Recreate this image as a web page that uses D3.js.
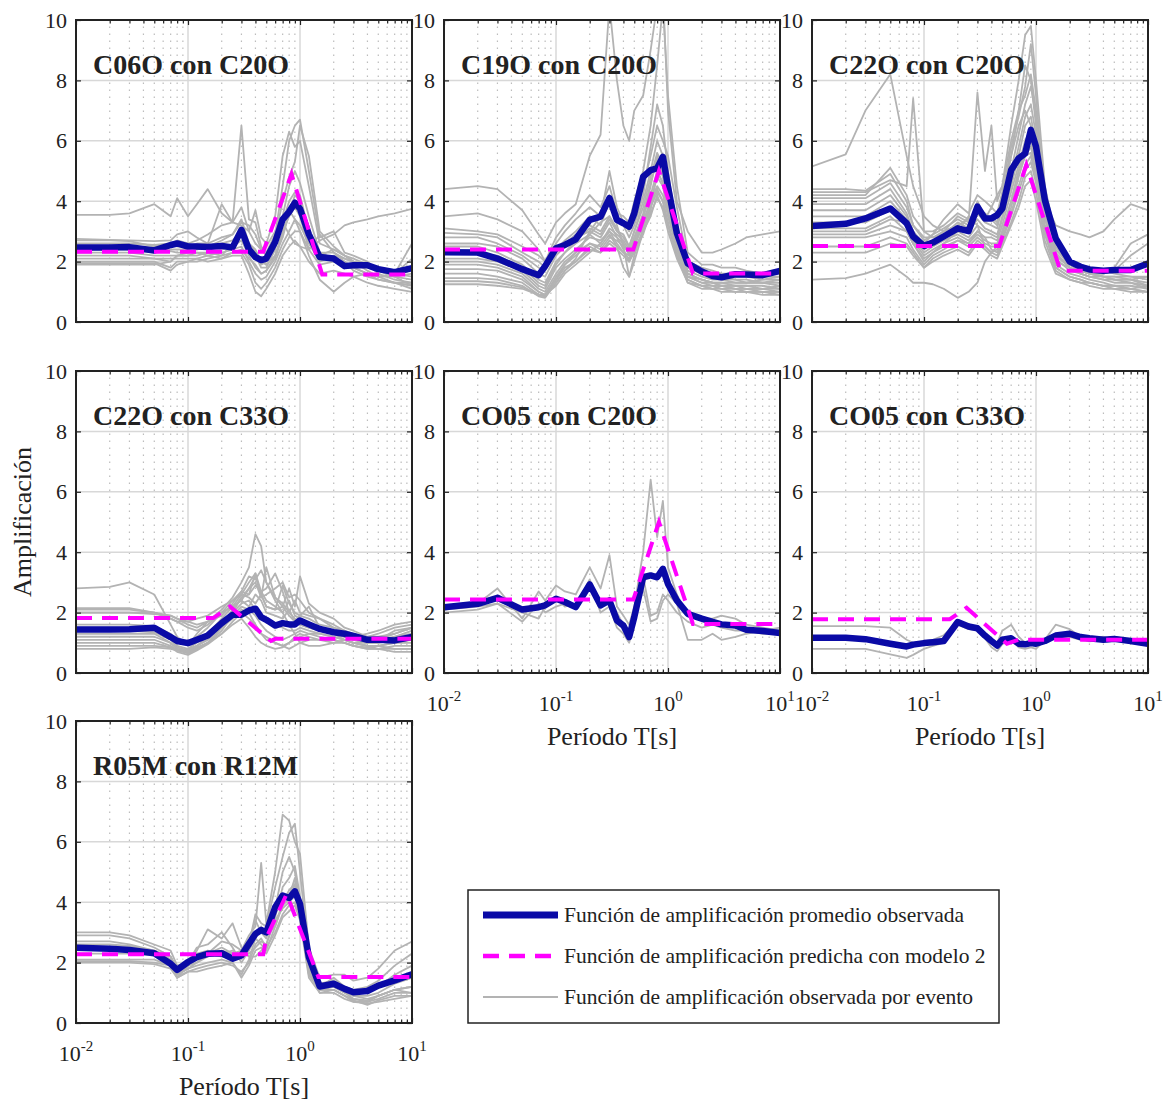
<!DOCTYPE html>
<html>
<head>
<meta charset="utf-8">
<script src="https://cdn.jsdelivr.net/npm/d3@7"></script>
<style>
  body { margin: 0; background: #fff; }
  svg text { font-family: "Liberation Serif", "Times New Roman", serif; fill: #222; }
</style>
</head>
<body>
<svg id="fig" width="1169" height="1102"></svg>
<script>
// Spectral periods (s) at which every curve is sampled
const periods = [0.01,0.02,0.03,0.05,0.07,0.08,0.1,0.12,0.15,0.2,0.25,0.3,0.35,0.4,0.45,0.5,0.6,0.7,0.8,0.9,1.0,1.2,1.5,2,2.5,3,4,5,7,10];

// Axis ticks
const decadeTicks = [0.01, 0.1, 1, 10];
const decadeExponents = ["-2", "-1", "0", "1"];
const ampTicks = [0, 2, 4, 6, 8, 10];

// Station pairs
const pairTitles = ["C06O con C20O", "C19O con C20O", "C22O con C20O", "C22O con C33O", "CO05 con C20O", "CO05 con C33O", "R05M con R12M"];

// ---- C06O con C20O ----
const meanC06O = [2.47,2.47,2.48,2.37,2.55,2.6,2.5,2.5,2.48,2.52,2.47,3.05,2.4,2.15,2.05,2.1,2.65,3.4,3.65,3.95,3.75,2.9,2.15,2.1,1.85,1.88,1.88,1.75,1.65,1.78];
const predC06O = [[0.01,2.33],[0.47,2.33],[0.84,4.9],[1.58,1.57],[10,1.57]];
const eventsC06O = [
  [3.55,3.55,3.6,3.9,3.5,4.1,3.5,3.9,4.4,3.6,3.3,3.2,3.0,2.6,2.4,2.5,3.0,3.3,2.9,2.6,2.5,2.4,2.7,2.9,3.2,3.3,3.4,3.5,3.6,3.75],
  [2.75,2.72,2.7,2.68,2.7,2.9,3.0,2.8,2.6,3.9,3.3,6.5,3.4,3.3,2.5,2.3,2.9,4.5,6.0,6.5,6.7,5.0,2.8,3.0,2.3,2.2,2.0,1.7,1.5,1.4],
  [2.7,2.7,2.68,2.5,2.6,2.7,2.6,2.7,2.9,3.2,3.3,3.8,3.0,3.7,2.8,2.6,3.5,5.5,6.3,5.8,6.0,4.5,2.6,2.4,2.2,2.0,1.8,1.7,1.5,1.2],
  [2.6,2.6,2.6,2.55,2.6,2.5,2.5,2.6,2.6,2.8,2.9,3.3,3.2,2.9,2.4,2.2,2.8,4.0,4.8,5.3,6.5,5.5,3.0,2.5,2.2,2.0,1.9,1.8,1.6,1.5],
  [2.5,2.5,2.5,2.45,2.4,2.4,2.4,2.5,2.5,2.6,2.7,3.0,2.6,2.2,1.8,1.8,2.4,3.5,4.5,5.0,4.6,3.5,2.3,2.3,2.1,2.0,1.9,1.7,1.6,2.6],
  [2.4,2.4,2.4,2.3,2.35,2.3,2.3,2.3,2.3,2.4,2.5,2.7,2.2,1.8,1.6,1.7,2.2,2.8,3.6,4.2,4.0,3.0,2.2,2.4,2.2,2.1,1.9,1.6,1.4,1.3],
  [2.3,2.3,2.3,2.2,2.2,2.2,2.2,2.3,2.2,2.3,2.4,2.5,2.0,1.6,1.4,1.5,2.0,2.6,3.0,3.4,3.2,2.6,2.0,2.2,2.1,2.0,1.7,1.5,1.3,1.2],
  [2.2,2.2,2.2,2.1,2.0,2.2,2.2,2.2,2.3,2.2,2.3,2.3,1.9,1.3,1.1,1.3,1.8,2.4,2.8,3.0,3.0,2.4,1.9,2.0,1.9,1.8,1.6,1.4,1.3,1.1],
  [2.1,2.1,2.1,2.1,2.1,2.1,2.1,2.1,2.2,2.1,2.2,2.2,1.6,1.0,0.85,1.1,1.6,2.2,2.5,2.7,2.5,2.0,1.6,1.7,1.6,1.5,1.3,1.2,1.1,1.0],
  [2.0,2.0,2.0,2.0,1.8,2.0,2.0,2.1,2.0,2.1,2.3,2.4,2.1,1.9,1.6,1.7,2.1,2.9,3.7,3.4,3.0,2.2,1.4,1.0,1.3,1.5,1.6,1.5,1.6,2.1],
  [1.95,1.95,1.95,1.95,1.7,1.9,2.0,2.0,2.1,2.2,2.6,3.0,2.6,2.4,2.0,1.9,2.2,3.0,3.5,3.8,3.5,2.4,2.9,2.3,2.0,1.7,1.5,1.4,1.3,1.3],
  [1.9,1.9,1.9,1.9,2.0,2.2,2.3,2.4,2.5,2.7,2.9,3.4,2.6,2.3,1.9,2.0,2.6,3.3,4.0,4.3,4.2,3.0,2.3,2.1,2.0,1.8,1.6,1.5,1.5,1.6]
];

// ---- C19O con C20O ----
const meanC19O = [2.31,2.3,2.1,1.75,1.55,1.85,2.44,2.55,2.74,3.38,3.49,4.1,3.38,3.27,3.16,3.6,4.81,5.03,5.09,5.47,4.48,2.94,1.94,1.67,1.52,1.48,1.58,1.57,1.55,1.69];
const predC19O = [[0.01,2.4],[0.49,2.4],[0.83,5.0],[1.67,1.61],[10,1.61]];
const eventsC19O = [
  [4.4,4.5,4.4,3.7,2.9,2.6,3.3,3.6,3.9,5.5,6.2,10.5,8.0,6.5,6.0,7.0,7.5,9.0,10.5,11,7.0,4.0,3.0,2.3,2.3,2.4,2.6,2.8,2.9,3.0],
  [3.5,3.6,3.4,3.0,2.4,2.0,2.8,3.2,3.6,4.2,3.8,4.5,3.6,3.5,3.3,4.0,5.0,6.5,8.5,10.5,7.5,4.5,2.3,1.9,1.9,1.8,1.8,1.7,1.6,1.6],
  [3.1,3.0,2.9,2.5,2.2,2.0,2.6,3.0,3.4,3.8,3.5,5.0,3.8,3.3,3.0,3.5,4.5,5.5,6.5,6.0,5.5,3.8,2.0,1.7,1.6,1.5,1.5,1.5,1.4,1.4],
  [2.95,2.9,2.8,2.3,2.0,1.8,2.4,2.7,3.0,3.5,3.2,4.0,3.4,3.2,2.8,3.2,4.2,5.8,7.2,6.5,5.0,3.0,1.8,1.6,1.5,1.5,1.4,1.3,1.3,1.2],
  [2.8,2.8,2.6,2.2,1.8,1.7,2.3,2.6,2.9,3.2,3.0,3.5,3.0,2.8,2.5,3.0,4.0,5.0,6.0,5.5,4.5,3.2,2.0,1.8,1.7,1.6,1.6,1.5,1.5,1.5],
  [2.6,2.6,2.5,2.1,1.6,1.5,2.2,2.5,2.8,3.0,2.8,3.3,2.8,2.6,2.3,2.8,3.6,4.6,5.4,5.0,4.2,3.0,1.8,1.6,1.5,1.4,1.4,1.4,1.3,1.3],
  [2.5,2.5,2.3,1.9,1.4,1.3,2.0,2.3,2.6,2.9,2.6,3.1,2.9,2.7,2.4,2.8,3.5,4.2,5.0,4.6,3.8,2.6,1.6,1.4,1.3,1.3,1.2,1.2,1.2,1.1],
  [2.3,2.3,2.2,1.8,1.3,1.2,1.9,2.3,2.7,3.1,2.9,3.4,3.0,2.9,2.5,3.0,3.8,4.8,5.6,5.2,4.0,2.8,1.7,1.5,1.4,1.4,1.3,1.3,1.3,1.4],
  [2.1,2.1,2.0,1.7,1.2,1.1,1.8,2.1,2.4,2.8,2.7,3.0,2.6,2.3,2.2,2.6,3.3,4.0,4.8,4.5,3.6,2.5,1.5,1.4,1.3,1.2,1.2,1.1,1.1,1.0],
  [2.0,2.0,1.9,1.6,1.1,1.0,1.6,2.0,2.3,2.6,2.5,2.9,2.5,1.8,1.5,2.2,3.1,3.8,4.3,4.0,3.3,2.2,1.4,1.2,1.1,1.2,1.1,1.0,1.0,0.9],
  [1.9,1.9,1.8,1.5,1.0,0.9,1.5,1.9,2.2,2.6,2.4,2.8,2.7,2.5,2.3,2.7,3.4,4.5,5.5,4.8,3.7,2.4,1.5,1.3,1.3,1.2,1.2,1.2,1.1,1.1],
  [1.75,1.75,1.7,1.4,1.0,0.9,1.4,1.8,2.0,2.4,2.3,2.6,2.4,2.2,2.0,2.4,3.0,3.6,4.1,3.8,3.2,2.3,1.4,1.2,1.2,1.1,1.1,1.1,1.0,1.0],
  [1.6,1.6,1.5,1.3,0.9,0.85,1.4,1.9,2.3,2.9,3.3,3.5,3.1,2.6,2.2,2.6,3.3,4.0,4.5,4.2,3.5,2.4,1.5,1.3,1.2,1.2,1.1,1.1,1.1,1.2],
  [1.45,1.45,1.4,1.2,0.85,0.8,1.3,1.7,2.0,2.5,2.3,2.7,2.5,2.3,2.1,2.5,3.2,3.9,4.4,4.0,3.2,2.2,1.3,1.1,1.1,1.0,1.0,1.0,0.9,0.9],
  [1.35,1.35,1.3,1.15,0.9,0.85,1.3,1.7,2.1,3.0,3.5,4.2,3.2,2.5,1.5,2.0,3.0,3.5,4.2,3.7,3.0,2.1,1.3,1.2,1.1,1.1,1.0,1.0,1.0,1.0],
  [1.25,1.25,1.2,1.1,0.9,0.9,1.2,1.6,1.9,2.3,2.6,3.0,2.8,2.4,2.0,2.3,2.9,3.7,5.0,4.6,3.6,2.5,1.6,1.4,1.3,1.3,1.3,1.3,1.4,1.5]
];

// ---- C22O con C20O ----
const meanC22O = [3.18,3.25,3.43,3.76,3.27,2.83,2.52,2.63,2.83,3.1,3.01,3.82,3.43,3.43,3.54,3.76,5.03,5.42,5.58,6.36,5.81,4.04,2.77,2.0,1.83,1.74,1.7,1.72,1.72,1.94];
const predC22O = [[0.01,2.52],[0.47,2.52],[0.82,5.2],[1.65,1.7],[10,1.7]];
const eventsC22O = [
  [5.15,5.55,7.0,8.2,5.5,4.5,3.5,3.2,3.0,3.2,3.4,3.6,3.4,3.8,4.2,4.5,6.0,7.0,7.5,8.2,7.0,4.0,3.2,3.0,2.9,2.8,3.0,3.4,3.9,3.7],
  [4.4,4.4,4.35,4.9,4.0,3.2,2.8,2.8,3.0,3.5,3.3,7.6,5.0,6.5,4.0,4.5,6.5,8.0,9.5,9.8,8.0,4.5,2.8,2.0,1.7,1.6,1.6,1.7,1.8,2.0],
  [4.3,4.3,4.3,4.7,4.5,7.4,3.0,2.8,2.9,3.3,3.1,4.0,3.5,3.5,3.3,4.0,5.5,7.0,8.5,8.0,6.5,4.2,2.5,1.9,1.7,1.6,1.5,1.4,1.3,1.2],
  [4.2,4.2,4.2,5.1,4.2,3.5,3.0,3.0,3.2,3.6,3.4,3.7,3.6,3.4,3.2,4.2,5.8,6.8,7.8,9.2,7.5,4.0,2.6,2.0,1.7,1.6,1.5,1.5,1.5,1.5],
  [4.1,4.1,4.1,4.6,3.8,3.2,2.7,2.9,3.1,3.4,3.2,3.6,3.3,3.2,3.1,3.8,5.0,6.2,7.2,7.8,6.8,4.0,2.6,2.0,1.9,1.8,1.7,1.6,1.5,1.4],
  [3.9,3.9,3.9,4.4,3.6,3.0,2.5,2.7,3.0,3.2,3.0,3.4,3.1,3.0,2.9,3.5,4.7,5.8,6.8,7.2,6.2,3.8,2.4,1.9,1.7,1.6,1.5,1.5,1.4,1.3],
  [3.7,3.7,3.7,4.2,3.5,2.9,2.4,2.6,2.8,3.0,2.8,3.2,3.0,2.9,2.8,3.4,4.5,5.5,6.5,6.8,5.8,3.6,2.3,1.8,1.6,1.5,1.5,1.4,1.4,1.2],
  [3.5,3.5,3.5,4.0,3.4,2.8,2.3,2.5,2.7,2.9,2.7,3.0,2.8,2.8,2.7,3.2,4.3,5.2,6.0,6.4,5.5,3.4,2.2,1.8,1.6,1.5,1.4,1.3,1.3,1.1],
  [3.3,3.3,3.3,3.7,3.2,2.7,2.2,2.4,2.6,2.8,2.6,2.9,2.7,2.6,2.6,3.0,4.0,5.0,5.8,6.0,5.2,3.2,2.1,1.7,1.6,1.5,1.4,1.4,1.4,1.5],
  [3.1,3.1,3.1,3.5,3.0,2.6,2.1,2.3,2.5,2.7,2.5,2.8,2.6,2.5,2.5,2.9,3.8,4.8,5.5,5.8,5.0,3.1,2.0,1.8,1.7,1.6,1.6,1.7,2.2,2.6],
  [3.0,3.0,3.0,3.4,3.3,3.0,2.6,2.9,3.4,3.9,3.6,4.2,4.0,3.8,3.6,4.3,5.5,6.5,7.0,6.5,5.5,3.5,2.2,1.9,1.8,1.7,1.6,1.8,2.6,2.9],
  [2.9,2.9,2.9,3.2,3.0,2.6,2.0,2.3,2.6,3.0,3.5,3.2,2.5,2.3,2.4,2.8,3.6,4.5,5.2,5.5,4.8,3.0,1.9,1.6,1.5,1.4,1.3,1.2,1.2,1.1],
  [2.8,2.8,2.8,3.0,2.8,2.4,1.9,2.2,2.4,2.7,2.6,3.0,2.8,2.4,2.3,2.7,3.5,4.3,5.0,5.3,4.6,2.9,1.8,1.5,1.4,1.3,1.2,1.1,1.0,1.0],
  [2.5,2.5,2.5,2.8,2.6,2.3,1.8,2.1,2.3,2.5,2.3,2.7,2.5,2.3,2.2,2.6,3.3,4.0,4.8,5.0,4.3,2.7,1.7,1.4,1.3,1.3,1.2,1.2,1.1,1.0],
  [2.3,2.3,2.3,2.6,2.5,2.2,1.8,2.0,2.2,2.4,2.2,2.6,2.4,2.2,2.1,2.5,3.2,3.8,4.5,4.7,4.0,2.5,1.6,1.4,1.3,1.2,1.1,1.1,1.1,1.2],
  [1.4,1.45,1.6,1.9,1.5,1.3,1.3,1.25,1.1,0.8,1.0,1.3,2.0,2.3,2.5,3.0,4.0,5.0,5.5,5.6,4.8,3.0,1.8,1.5,1.4,1.3,1.2,1.2,1.1,1.0]
];

// ---- C22O con C33O ----
const meanC22O33 = [1.44,1.44,1.45,1.5,1.19,1.06,0.99,1.1,1.24,1.65,1.93,1.93,2.07,2.13,1.85,1.76,1.57,1.65,1.61,1.61,1.74,1.61,1.46,1.35,1.3,1.23,1.1,1.1,1.08,1.19];
const predC22O33 = [[0.01,1.82],[0.168,1.82],[0.237,2.2],[0.55,1.06],[0.6,1.13],[10,1.13]];
const eventsC22O33 = [
  [2.8,2.85,3.0,2.6,1.6,1.2,0.9,1.3,1.7,2.0,2.2,2.4,2.8,3.2,2.6,2.2,2.1,2.2,1.9,1.7,1.9,1.8,1.6,1.5,1.4,1.2,1.3,1.4,1.6,1.7],
  [2.15,2.15,2.15,2.0,1.9,1.8,1.6,1.5,1.7,2.1,2.5,3.0,3.5,4.6,4.2,3.0,2.5,2.3,2.0,1.8,1.6,1.5,1.4,1.4,1.3,1.2,1.1,1.1,1.2,1.3],
  [2.1,2.1,2.1,2.0,1.8,1.7,1.5,1.4,1.6,2.0,2.2,2.6,3.0,3.3,2.5,3.5,2.5,2.2,2.8,2.2,3.2,2.3,2.0,1.8,1.5,1.4,1.2,1.3,1.5,1.6],
  [2.0,2.0,2.0,1.95,1.9,1.8,1.7,1.6,1.7,1.9,2.3,2.7,2.6,2.9,2.7,2.8,3.3,2.7,2.0,2.4,2.0,1.9,1.8,1.6,1.4,1.3,1.2,1.2,1.3,1.5],
  [1.6,1.6,1.6,1.55,1.3,1.1,1.0,1.2,1.5,2.0,2.4,2.6,2.5,2.3,2.6,2.2,2.1,2.9,2.3,2.0,1.9,2.2,1.5,1.3,1.2,1.1,1.0,1.0,1.1,1.1],
  [1.5,1.5,1.5,1.45,1.2,0.9,0.8,1.0,1.3,1.8,2.2,2.4,2.2,2.6,2.4,2.0,1.9,1.8,2.1,1.7,1.6,1.5,1.4,1.3,1.1,1.0,0.9,0.9,1.0,1.0],
  [1.4,1.4,1.4,1.35,1.1,0.85,0.75,0.9,1.2,1.6,2.0,2.3,2.4,2.1,1.8,1.7,1.6,1.5,1.4,1.4,1.5,1.4,1.3,1.2,1.1,1.0,0.9,0.8,0.9,0.9],
  [1.3,1.3,1.3,1.3,1.0,0.8,0.7,0.9,1.1,1.5,1.8,2.1,2.0,1.6,1.3,1.2,1.0,0.9,1.0,1.1,1.2,1.3,1.3,1.2,1.1,1.0,0.9,0.9,0.8,0.8],
  [1.2,1.2,1.2,1.2,1.0,0.8,0.7,0.85,1.0,1.3,1.6,1.8,1.5,1.2,1.0,0.9,0.8,0.85,1.0,1.2,1.3,1.2,1.1,1.1,1.0,0.9,0.8,0.8,0.7,0.7],
  [1.1,1.1,1.1,1.1,0.9,0.75,0.65,0.8,1.0,1.4,1.9,2.2,2.1,1.9,1.6,1.4,1.2,1.1,1.2,1.3,1.4,1.3,1.2,1.1,1.0,0.9,0.85,0.9,1.0,1.1],
  [1.0,1.0,1.0,1.0,0.85,0.7,0.6,0.75,0.95,1.3,1.7,2.0,1.8,1.6,1.3,1.1,1.0,0.9,0.8,0.9,1.0,1.1,1.1,1.0,1.0,0.9,0.8,0.8,0.8,0.8],
  [0.9,0.9,0.9,0.9,0.85,0.75,0.7,0.8,1.0,1.5,2.0,2.5,2.6,3.3,2.7,2.4,2.2,2.0,2.4,1.9,1.8,1.6,1.5,1.3,1.2,1.1,1.0,1.0,1.2,1.4],
  [0.8,0.8,0.8,0.85,0.8,0.75,0.8,0.9,1.1,1.6,2.1,2.5,2.8,3.0,2.5,2.6,2.8,3.0,2.5,2.6,2.4,2.0,1.8,1.5,1.3,1.2,1.1,1.1,1.4,1.5],
  [2.0,2.0,2.0,2.0,1.8,1.7,1.7,1.8,1.9,2.2,2.4,2.7,3.2,3.1,3.4,3.0,2.4,2.0,1.6,1.3,1.0,0.9,0.9,1.0,1.1,1.0,1.0,1.1,1.3,1.5]
];

// ---- CO05 con C20O ----
const meanCO05 = [2.18,2.29,2.49,2.1,2.18,2.24,2.46,2.35,2.18,2.93,2.24,2.4,1.74,1.57,1.19,1.85,3.17,3.23,3.17,3.45,2.95,2.4,1.96,1.8,1.69,1.61,1.57,1.43,1.39,1.32];
const predCO05 = [[0.01,2.43],[0.49,2.43],[0.83,5.0],[1.67,1.62],[10,1.62]];
const eventsCO05 = [
  [2.1,2.3,2.8,1.8,2.7,2.4,2.9,2.7,2.6,3.5,2.8,3.9,2.2,1.9,1.6,2.2,4.0,6.4,4.5,5.7,3.5,2.6,1.9,1.8,1.8,1.9,1.8,1.6,1.5,1.4],
  [2.1,2.2,2.3,1.7,2.3,2.0,2.2,2.3,2.2,3.1,2.0,2.2,1.5,1.3,1.0,1.6,3.2,1.9,2.0,2.6,2.4,2.0,1.7,1.5,1.6,1.5,1.4,1.4,1.3,1.3],
  [2.0,2.1,2.3,2.0,1.8,2.2,2.5,2.2,2.3,2.8,2.3,2.5,2.0,1.6,1.2,2.0,2.8,1.7,1.8,2.4,2.6,2.3,1.1,1.1,1.3,1.1,1.2,1.3,1.4,1.5]
];

// ---- CO05 con C33O ----
const meanCO05_33 = [1.17,1.17,1.12,0.97,0.88,0.94,0.99,1.02,1.06,1.69,1.54,1.48,1.24,1.06,0.91,1.1,1.15,0.97,0.95,0.99,0.97,1.06,1.24,1.3,1.19,1.15,1.1,1.13,1.06,0.97];
const predCO05_33 = [[0.01,1.78],[0.17,1.78],[0.24,2.16],[0.55,0.97],[0.7,1.1],[10,1.1]];
const eventsCO05_33 = [
  [1.55,1.55,1.55,1.5,1.1,1.0,1.05,1.1,1.25,1.7,1.6,1.5,1.3,1.1,1.0,1.4,1.6,1.2,1.0,0.95,0.9,1.1,1.6,1.45,1.2,1.15,1.2,1.1,1.05,1.0],
  [0.8,0.8,0.8,0.62,0.5,0.6,0.8,0.9,1.0,1.6,1.45,1.4,1.15,0.85,0.72,0.95,1.15,0.85,0.8,0.85,0.8,1.1,1.2,1.2,1.1,1.05,1.1,1.1,1.05,1.0]
];

// ---- R05M con R12M ----
const meanR05M = [2.49,2.46,2.42,2.31,1.96,1.76,2.02,2.18,2.29,2.31,2.13,2.24,2.62,2.95,3.08,3.0,3.83,4.22,4.14,4.36,3.94,2.18,1.21,1.3,1.13,1.02,1.06,1.24,1.41,1.61];
const predR05M = [[0.01,2.28],[0.47,2.28],[0.5,2.82],[0.76,4.27],[1.46,1.52],[10,1.52]];
const eventsR05M = [
  [3.0,3.0,2.9,2.6,2.4,1.9,2.0,2.2,2.3,2.7,2.6,2.4,2.9,3.2,5.3,3.3,5.0,6.9,6.7,6.0,5.6,2.5,1.5,1.6,1.6,1.4,1.5,1.8,2.4,2.7],
  [2.9,2.9,2.8,2.5,2.2,1.7,1.9,2.0,2.2,2.4,2.3,2.3,2.6,3.6,3.3,3.2,4.5,5.5,6.3,6.6,5.0,2.2,1.3,1.4,1.2,1.1,1.2,1.4,1.9,2.3],
  [2.7,2.7,2.6,2.4,2.1,1.6,1.8,2.0,2.3,2.5,2.3,2.4,2.7,3.0,3.0,2.8,3.8,5.0,5.5,5.0,4.0,1.8,1.2,1.2,1.0,0.9,0.9,1.0,1.3,1.5],
  [2.6,2.6,2.55,2.4,2.2,1.8,2.1,2.3,2.4,2.3,2.4,2.2,2.3,2.5,2.7,2.6,3.5,4.5,4.8,5.2,4.2,1.9,1.3,1.3,1.1,0.9,0.8,0.9,1.1,1.2],
  [2.45,2.45,2.45,2.35,2.2,1.8,2.0,2.5,2.6,3.0,2.5,2.0,2.4,2.8,2.6,2.4,3.2,4.0,4.4,4.6,4.0,1.7,1.1,1.1,0.9,0.8,0.7,0.8,1.0,1.0],
  [2.3,2.3,2.3,2.25,2.0,1.5,1.9,2.4,3.1,2.8,3.3,2.5,2.2,2.2,2.4,2.6,3.4,3.8,4.0,4.2,3.8,1.8,1.0,1.0,0.8,0.7,0.7,0.9,1.1,1.2],
  [2.1,2.1,2.1,2.1,1.9,1.5,1.7,1.8,1.9,2.0,1.9,1.7,2.0,2.6,2.8,2.5,3.0,3.6,3.9,4.0,3.6,1.6,1.1,1.1,0.9,0.75,0.6,0.75,0.9,0.9],
  [2.05,2.05,2.05,2.0,1.9,1.6,1.8,1.9,2.0,2.1,2.0,1.5,1.9,2.4,2.5,2.3,2.9,3.5,3.7,3.9,3.4,1.5,1.0,1.1,0.9,0.7,0.65,0.7,0.8,0.9],
  [2.5,2.5,2.5,2.4,2.1,1.6,1.9,2.1,2.3,2.2,2.2,2.2,2.7,3.4,3.0,3.0,3.6,4.2,4.2,4.8,3.9,1.7,1.2,1.5,1.2,1.1,1.1,1.2,1.6,1.9],
  [2.0,2.0,2.0,1.95,1.8,1.5,1.7,1.7,1.8,1.9,2.0,1.6,2.1,2.8,3.2,2.9,3.2,3.9,4.1,4.6,3.8,1.6,1.1,1.2,1.0,0.8,0.75,0.9,1.1,1.0]
];

// Legend entries
const legendLabels = [
  "Función de amplificación promedio observada",
  "Función de amplificación predicha con modelo 2",
  "Función de amplificación observada por evento"
];

// ---------------- drawing ----------------
const COLORS = { mean: "#0a0aa6", pred: "#ff00ff", event: "#b3b3b3", axis: "#222" };
const W = 336, H = 302;
const colX = [76, 444, 812];
const rowY = [20, 371, 721];

const panels = [
  { title: pairTitles[0], col: 0, row: 0, mean: meanC06O,    pred: predC06O,    events: eventsC06O,    xLabels: false },
  { title: pairTitles[1], col: 1, row: 0, mean: meanC19O,    pred: predC19O,    events: eventsC19O,    xLabels: false },
  { title: pairTitles[2], col: 2, row: 0, mean: meanC22O,    pred: predC22O,    events: eventsC22O,    xLabels: false },
  { title: pairTitles[3], col: 0, row: 1, mean: meanC22O33,  pred: predC22O33,  events: eventsC22O33,  xLabels: false },
  { title: pairTitles[4], col: 1, row: 1, mean: meanCO05,    pred: predCO05,    events: eventsCO05,    xLabels: true },
  { title: pairTitles[5], col: 2, row: 1, mean: meanCO05_33, pred: predCO05_33, events: eventsCO05_33, xLabels: true },
  { title: pairTitles[6], col: 0, row: 2, mean: meanR05M,    pred: predR05M,    events: eventsR05M,    xLabels: true }
];

const minorTicks = decadeTicks.slice(0, 3).flatMap(d => [2, 3, 4, 5, 6, 7, 8, 9].map(k => d * k));

const svg = d3.select("#fig");
const defs = svg.append("defs");

panels.forEach((p, i) => {
  const x = d3.scaleLog().domain([0.01, 10]).range([0, W]);
  const y = d3.scaleLinear().domain([0, 10]).range([H, 0]);
  const g = svg.append("g").attr("transform", `translate(${colX[p.col]},${rowY[p.row]})`);

  defs.append("clipPath").attr("id", "clip" + i)
    .append("rect").attr("x", 0).attr("y", 0).attr("width", W).attr("height", H);

  // minor (dotted) period grid
  g.append("g").selectAll("line").data(minorTicks).join("line")
    .attr("x1", d => x(d)).attr("x2", d => x(d)).attr("y1", H).attr("y2", 0)
    .attr("stroke", "#bcbcbc").attr("stroke-width", 1.2).attr("stroke-dasharray", "1.4,5.6");

  // major grid
  g.append("g").selectAll("line").data([0.1, 1]).join("line")
    .attr("x1", d => x(d)).attr("x2", d => x(d)).attr("y1", 0).attr("y2", H)
    .attr("stroke", "#d8d8d8").attr("stroke-width", 1.5);
  g.append("g").selectAll("line").data([2, 4, 6, 8]).join("line")
    .attr("x1", 0).attr("x2", W).attr("y1", d => y(d)).attr("y2", d => y(d))
    .attr("stroke", "#d8d8d8").attr("stroke-width", 1.5);

  const plot = g.append("g").attr("clip-path", `url(#clip${i})`);
  const sampled = d3.line().x((d, j) => x(periods[j])).y(d => y(d));
  const pairs = d3.line().x(d => x(d[0])).y(d => y(d[1]));

  plot.selectAll(".ev").data(p.events).join("path").attr("class", "ev")
    .attr("d", sampled).attr("fill", "none")
    .attr("stroke", COLORS.event).attr("stroke-width", 1.8).attr("stroke-linejoin", "round");

  plot.append("path").datum(p.mean).attr("d", sampled).attr("fill", "none")
    .attr("stroke", COLORS.mean).attr("stroke-width", 6.5).attr("stroke-linejoin", "round");

  plot.append("path").datum(p.pred).attr("d", pairs).attr("fill", "none")
    .attr("stroke", COLORS.pred).attr("stroke-width", 4).attr("stroke-dasharray", "16,10");

  // axes: ticks pointing inward on all four sides
  const styleAxis = sel => {
    sel.select(".domain").remove();
    sel.selectAll(".tick line").attr("stroke", COLORS.axis).attr("stroke-width", 1.2);
    sel.attr("font-family", null).attr("font-size", null);
  };
  g.append("g").attr("transform", `translate(0,${H})`)
    .call(d3.axisBottom(x).tickValues(decadeTicks).tickSize(-5).tickFormat("")).call(styleAxis);
  g.append("g").attr("transform", `translate(0,${H})`)
    .call(d3.axisBottom(x).tickValues(minorTicks).tickSize(-3.5).tickFormat("")).call(styleAxis);
  g.append("g")
    .call(d3.axisTop(x).tickValues(decadeTicks).tickSize(-5).tickFormat("")).call(styleAxis);
  g.append("g")
    .call(d3.axisTop(x).tickValues(minorTicks).tickSize(-3.5).tickFormat("")).call(styleAxis);
  const yAx = g.append("g")
    .call(d3.axisLeft(y).tickValues(ampTicks).tickSize(-5).tickPadding(9).tickFormat(d3.format("d")))
    .call(styleAxis);
  yAx.selectAll("text").attr("font-size", 22).attr("fill", COLORS.axis);
  g.append("g").attr("transform", `translate(${W},0)`)
    .call(d3.axisRight(y).tickValues(ampTicks).tickSize(-5).tickFormat("")).call(styleAxis);

  g.append("rect").attr("x", 0).attr("y", 0).attr("width", W).attr("height", H)
    .attr("fill", "none").attr("stroke", COLORS.axis).attr("stroke-width", 2);

  if (p.xLabels) {
    decadeTicks.forEach((t, k) => {
      const lab = g.append("text").attr("x", x(t)).attr("y", H + 38)
        .attr("text-anchor", "middle").attr("font-size", 22);
      lab.append("tspan").text("10");
      lab.append("tspan").attr("dy", -10).attr("font-size", 15).text(decadeExponents[k]);
    });
    g.append("text").attr("x", W / 2).attr("y", H + 72).attr("text-anchor", "middle")
      .attr("font-size", 26).text("Período T[s]");
  }

  g.append("text").attr("x", 17).attr("y", 54)
    .attr("font-size", 28).attr("font-weight", "bold").attr("fill", "#000").text(p.title);
});

// shared y label
svg.append("text").attr("transform", `translate(22,${rowY[1] + H / 2}) rotate(-90)`)
  .attr("text-anchor", "middle").attr("dominant-baseline", "central")
  .attr("font-size", 26).text("Amplificación");

// legend
const lg = svg.append("g").attr("transform", "translate(468,890)");
lg.append("rect").attr("width", 531).attr("height", 133)
  .attr("fill", "#fff").attr("stroke", COLORS.axis).attr("stroke-width", 1.5);
const legendStyles = [
  { stroke: COLORS.mean, width: 7, dash: null },
  { stroke: COLORS.pred, width: 4.5, dash: "16,10" },
  { stroke: COLORS.event, width: 2.2, dash: null }
];
legendLabels.forEach((txt, k) => {
  const yy = 25 + k * 41;
  lg.append("line").attr("x1", 15).attr("x2", 90).attr("y1", yy).attr("y2", yy)
    .attr("stroke", legendStyles[k].stroke).attr("stroke-width", legendStyles[k].width)
    .attr("stroke-dasharray", legendStyles[k].dash);
  lg.append("text").attr("x", 96).attr("y", yy).attr("dominant-baseline", "central")
    .attr("font-size", 21.5).text(txt);
});
</script>
</body>
</html>
